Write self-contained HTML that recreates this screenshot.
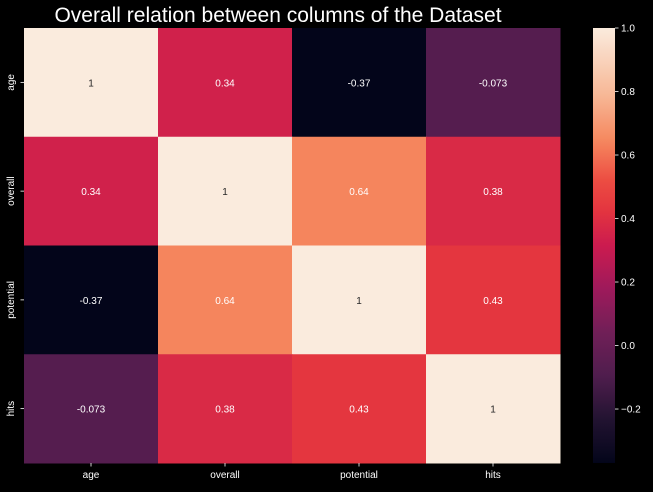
<!DOCTYPE html>
<html><head><meta charset="utf-8"><style>
body{margin:0;background:#000;width:653px;height:487px;overflow:hidden;font-family:"Liberation Sans","DejaVu Sans",sans-serif}
</style></head><body>
<svg id="chart" width="653" height="487" xmlns="http://www.w3.org/2000/svg">
<rect width="653" height="487" fill="#000"/>
<text x="278" y="22" fill="#fff" font-size="21" text-anchor="middle">Overall relation between columns of the Dataset</text>
<defs><linearGradient id="cbg" x1="0" y1="1" x2="0" y2="0"></linearGradient></defs>
<g id="cells"></g><g id="axes"></g><g id="cbar"></g>
</svg>
<script>
const labels = ["age","overall","potential","hits"];
const matrix = [
 [1,0.34,-0.37,-0.073],
 [0.34,1,0.64,0.38],
 [-0.37,0.64,1,0.43],
 [-0.073,0.38,0.43,1]
];
const cellText = [
 ["1","0.34","-0.37","-0.073"],
 ["0.34","1","0.64","0.38"],
 ["-0.37","0.64","1","0.43"],
 ["-0.073","0.38","0.43","1"]
];
const cbTicks = [1.0,0.8,0.6,0.4,0.2,0.0,-0.2];
const vmin=-0.37, vmax=1;
const stops=[[0,"#03051a"],[0.1,"#221331"],[0.2,"#4f1d4d"],[0.3,"#701f57"],[0.4,"#9e1a5b"],[0.5,"#cb1b4f"],[0.58,"#e3353f"],[0.65,"#ec4d42"],[0.74,"#f5875e"],[0.85,"#f7b998"],[1,"#faebdd"]];
function hex(h){return [1,3,5].map(i=>parseInt(h.substr(i,2),16));}
function cmap(v){let t=Math.max(0,Math.min(1,(v-vmin)/(vmax-vmin)));
 for(let i=1;i<stops.length;i++){if(t<=stops[i][0]){const a=hex(stops[i-1][1]),b=hex(stops[i][1]);const f=(t-stops[i-1][0])/(stops[i][0]-stops[i-1][0]);return "rgb("+a.map((x,k)=>Math.round(x+(b[k]-x)*f)).join(",")+")";}}
 return stops[stops.length-1][1];}
const NS="http://www.w3.org/2000/svg";
const L=24,T=28,W=536,H=435,n=labels.length,cw=W/n,ch=H/n;
const xs=i=>L+i*cw, ys=j=>T+j*ch;
function mk(tag,attrs,parent){const e=document.createElementNS(NS,tag);for(const k in attrs)e.setAttribute(k,attrs[k]);parent.appendChild(e);return e;}
const cells=document.getElementById("cells"),axes=document.getElementById("axes"),cb=document.getElementById("cbar");
for(let r=0;r<n;r++)for(let c=0;c<n;c++){
 const v=matrix[r][c];
 const rc=mk("rect",{x:xs(c),y:ys(r),width:cw+0.5,height:ch+0.5,fill:cmap(v)},cells);
 
 
 const tx=mk("text",{x:xs(c)+cw/2,y:ys(r)+ch/2+4,"text-anchor":"middle","font-size":"10",fill:v>0.8?"#262626":"#fff"},cells);
 tx.textContent=cellText[r][c];
 
 
}
labels.forEach((lab,i)=>{
 mk("line",{x1:xs(i)+cw/2,x2:xs(i)+cw/2,y1:T+H,y2:T+H+3.5,stroke:"#fff","stroke-width":0.8},axes);
 const t=mk("text",{x:xs(i)+cw/2,y:T+H+15,"text-anchor":"middle","font-size":"10",fill:"#fff"},axes);
 t.textContent=lab;
 
 
 mk("line",{x1:L-3.5,x2:L,y1:ys(i)+ch/2,y2:ys(i)+ch/2,stroke:"#fff","stroke-width":0.8},axes);
 const y=ys(i)+ch/2, x=14;
 const t2=mk("text",{x:x,y:y,"text-anchor":"middle","font-size":"10",fill:"#fff",transform:`rotate(-90 ${x} ${y})`},axes);
 t2.textContent=lab;
 
 
});
// colorbar
const g=document.getElementById("cbg");
for(let k=0;k<=40;k++){const v=vmin+(vmax-vmin)*k/40;mk("stop",{offset:k/40,"stop-color":cmap(v)},g);}
const CX=593,CW=22;
const cy=v=>T+(vmax-v)/(vmax-vmin)*H;
const bar=mk("rect",{x:CX,y:T,width:CW,height:H,fill:"url(#cbg)"},cb);


cbTicks.forEach(v=>{
 mk("line",{x1:CX+CW,x2:CX+CW+3.5,y1:cy(v),y2:cy(v),stroke:"#fff","stroke-width":0.8},cb);
 const t=mk("text",{x:CX+CW+6,y:cy(v)+3.5,"font-size":"10",fill:"#fff"},cb);
 t.textContent=v<0?"\u2212"+Math.abs(v).toFixed(1):v.toFixed(1);
 
 
});
</script>
</body></html>
